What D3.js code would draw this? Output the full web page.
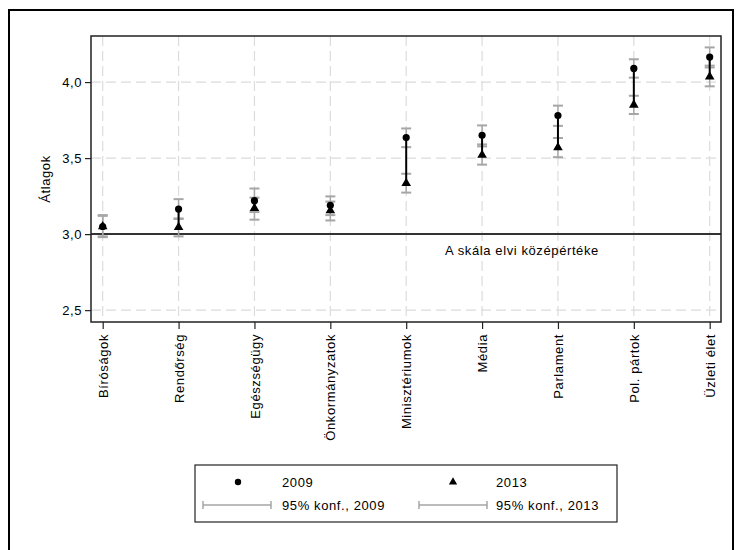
<!DOCTYPE html>
<html>
<head>
<meta charset="utf-8">
<script src="https://cdn.jsdelivr.net/npm/d3@7/dist/d3.min.js"></script>
<style>
  html, body { margin: 0; padding: 0; background: #fff; }
  svg { display: block; font-family: "Liberation Sans", Arial, sans-serif; }
</style>
</head>
<body>
<svg id="chart" width="737" height="550"></svg>
<script>
const categories = ["Bíróságok","Rendőrség","Egészségügy","Önkormányzatok","Minisztériumok","Média","Parlament","Pol. pártok","Üzleti élet"];
const mean2009 = [3.05, 3.165, 3.22, 3.19, 3.635, 3.65, 3.78, 4.09, 4.165];
const low2009  = [2.985, 3.10, 3.145, 3.125, 3.572, 3.59, 3.712, 4.029, 4.108];
const high2009 = [3.125, 3.23, 3.30, 3.248, 3.695, 3.715, 3.845, 4.15, 4.228];
const mean2013 = [3.05, 3.045, 3.17, 3.155, 3.335, 3.52, 3.57, 3.85, 4.035];
const low2013  = [2.98, 2.985, 3.095, 3.09, 3.273, 3.457, 3.506, 3.79, 3.972];
const high2013 = [3.12, 3.103, 3.24, 3.214, 3.397, 3.577, 3.632, 3.91, 4.096];
const yTicks = [2.5, 3.0, 3.5, 4.0];
const refValue = 3.0;
const refLabel = "A skála elvi középértéke";
const yTitle = "Átlagok";
const legendLabels = ["2009", "2013", "95% konf., 2009", "95% konf., 2013"];

const svg = d3.select("#chart");
const plot = {left: 91, top: 36, right: 721, bottom: 322};

const x = d3.scalePoint().domain(categories).range([102.7, 709.7]);
const y = d3.scaleLinear().domain([2.422, 4.303]).range([plot.bottom, plot.top]);
const fmt = d => d3.format(".1f")(d).replace(".", ",");

// outer frame
svg.append("path")
  .attr("d", `M9,550 L9,10 L733,10 L733,550`)
  .attr("fill", "none").attr("stroke", "#000").attr("stroke-width", 2);

// grid
const g = svg.append("g");
g.selectAll(".vgrid").data(categories).join("line")
  .attr("x1", d => x(d)).attr("x2", d => x(d))
  .attr("y1", plot.top).attr("y2", plot.bottom)
  .attr("stroke", "#dcdcdc").attr("stroke-width", 1.2).attr("stroke-dasharray", "10,5");
g.selectAll(".hgrid").data(yTicks).join("line")
  .attr("x1", plot.left).attr("x2", plot.right)
  .attr("y1", d => y(d)).attr("y2", d => y(d))
  .attr("stroke", "#dcdcdc").attr("stroke-width", 1.2).attr("stroke-dasharray", "10,5");

// reference line
svg.append("line")
  .attr("x1", plot.left).attr("x2", plot.right)
  .attr("y1", y(refValue)).attr("y2", y(refValue))
  .attr("stroke", "#333").attr("stroke-width", 2);
svg.append("text")
  .attr("x", 445).attr("y", y(refValue) + 21)
  .attr("font-size", 13).attr("letter-spacing", 0.6).attr("fill", "#000")
  .text(refLabel);

// CI bars
const capW = 5;
function drawCI(low, high) {
  const gg = svg.append("g").attr("stroke", "#a6a6a6");
  categories.forEach((c, i) => {
    const cx = x(c);
    gg.append("line").attr("x1", cx).attr("x2", cx).attr("y1", y(low[i])).attr("y2", y(high[i])).attr("stroke-width", 1.5);
    [low[i], high[i]].forEach(v => {
      gg.append("line").attr("x1", cx - capW).attr("x2", cx + capW).attr("y1", y(v)).attr("y2", y(v)).attr("stroke-width", 2);
    });
  });
}
drawCI(low2009, high2009);
drawCI(low2013, high2013);

// connecting line between means
svg.append("g").selectAll("line").data(categories).join("line")
  .attr("x1", d => x(d)).attr("x2", d => x(d))
  .attr("y1", (d, i) => y(mean2009[i])).attr("y2", (d, i) => y(mean2013[i]))
  .attr("stroke", "#000").attr("stroke-width", 2);

// markers
svg.append("g").selectAll("circle").data(categories).join("circle")
  .attr("cx", d => x(d)).attr("cy", (d, i) => y(mean2009[i])).attr("r", 3.6).attr("fill", "#000");
const tri = d3.symbol().type(d3.symbolTriangle).size(40);
svg.append("g").selectAll("path").data(categories).join("path")
  .attr("d", tri).attr("transform", (d, i) => `translate(${x(d)},${y(mean2013[i])})`).attr("fill", "#000");

// plot frame
svg.append("rect").attr("x", plot.left).attr("y", plot.top)
  .attr("width", plot.right - plot.left).attr("height", plot.bottom - plot.top)
  .attr("fill", "none").attr("stroke", "#222").attr("stroke-width", 1.5);

// axes
const yAxis = svg.append("g").attr("transform", `translate(${plot.left},0)`)
  .call(d3.axisLeft(y).tickValues(yTicks).tickFormat(fmt).tickSize(6).tickPadding(3));
yAxis.select(".domain").remove();
yAxis.selectAll("text").attr("font-size", 13).attr("letter-spacing", 0.6).attr("fill", "#000").attr("font-family", "Liberation Sans, Arial, sans-serif");
yAxis.selectAll("line").attr("stroke", "#222").attr("stroke-width", 1.2);

const xAxis = svg.append("g").attr("transform", `translate(0,${plot.bottom})`)
  .call(d3.axisBottom(x).tickSize(7).tickPadding(4));
xAxis.select(".domain").remove();
xAxis.selectAll("line").attr("stroke", "#222").attr("stroke-width", 1.2);
xAxis.selectAll("text")
  .attr("font-size", 13).attr("letter-spacing", 0.6).attr("fill", "#000").attr("font-family", "Liberation Sans, Arial, sans-serif")
  .attr("transform", "rotate(-90)")
  .attr("text-anchor", "end")
  .attr("x", -12).attr("y", 0).attr("dy", "0.35em");

// y title
svg.append("text")
  .attr("transform", `translate(50,179) rotate(-90)`)
  .attr("text-anchor", "middle").attr("font-size", 13).attr("letter-spacing", 0.6)
  .text(yTitle);

// legend
const lg = svg.append("g");
lg.append("rect").attr("x", 195).attr("y", 465).attr("width", 422).attr("height", 57)
  .attr("fill", "#fff").attr("stroke", "#222").attr("stroke-width", 1.2);
lg.append("circle").attr("cx", 238).attr("cy", 482).attr("r", 3.2).attr("fill", "#000");
lg.append("path").attr("d", d3.symbol().type(d3.symbolTriangle).size(30)).attr("transform", "translate(453,482)").attr("fill", "#000");
[[203, 271], [419, 487]].forEach(([a, b]) => {
  const l = lg.append("g").attr("stroke", "#a6a6a6").attr("stroke-width", 1.5);
  l.append("line").attr("x1", a).attr("x2", b).attr("y1", 505).attr("y2", 505);
  l.append("line").attr("x1", a).attr("x2", a).attr("y1", 501).attr("y2", 509);
  l.append("line").attr("x1", b).attr("x2", b).attr("y1", 501).attr("y2", 509);
});
const lt = [[282, 482, legendLabels[0]], [496, 482, legendLabels[1]], [282, 505, legendLabels[2]], [496, 505, legendLabels[3]]];
lt.forEach(([tx, ty, t]) => {
  lg.append("text").attr("x", tx).attr("y", ty).attr("dy", "0.35em")
    .attr("font-size", 13).attr("letter-spacing", 0.6).text(t);
});
</script>
</body>
</html>
